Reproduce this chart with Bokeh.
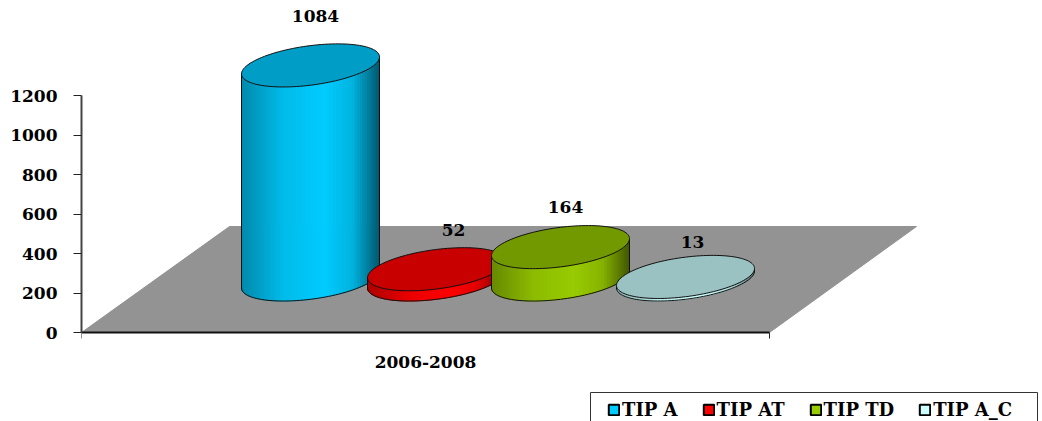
import numpy as np
from bokeh.plotting import figure
from bokeh.embed import file_html
from bokeh.resources import INLINE
from bokeh.core.properties import value
from bokeh.models import LinearAxis, FixedTicker, Legend, LegendItem

categories = ["TIP A", "TIP AT", "TIP TD", "TIP A_C"]
values = [1084, 52, 164, 13]
side_colors = ["#00CCFF", "#FF0000", "#99CC00", "#CCFFFF"]
top_colors = ["#009DC6", "#C80000", "#739900", "#9BC2C2"]
y_ticks = [0, 200, 400, 600, 800, 1000, 1200]
period = "2006-2008"

# layout, in page pixels
PX_Y0, PX_Y1200 = 332.0, 95.0
UNIT = 1200.0 / (PX_Y0 - PX_Y1200)
def Y(px):
    return (PX_Y0 - px) * UNIT

centres = [310, 436, 560, 685]
base_px = 279.0
half_w, shear, half_h = 69.0, 8.5, 19.8
label_dx = [5, 17, 5, 7]
label_gap = [28, 18, 19, 13]
FONT = "DejaVu Serif"

p = figure(width=1042, height=421, x_range=(81, 1042), y_range=(Y(421), Y(0)),
           output_backend="svg", toolbar_location=None, min_border_left=81,
           min_border_right=0, min_border_top=0, min_border_bottom=0,
           outline_line_color=None, background_fill_color="white", x_axis_type=None, y_axis_type=None)
p.grid.visible = False

# floor
p.patch([81, 229, 916, 769], [Y(332), Y(226), Y(226), Y(332)], fill_color="#939393", line_color="#939393")

t = np.linspace(0, 2 * np.pi, 121)
for cat, v, cx, sc, tc, dx, gap in zip(categories, values, centres, side_colors, top_colors, label_dx, label_gap):
    y0 = Y(base_px)
    ex = cx + half_w * np.cos(t)
    ey = (shear * np.cos(t) + half_h * np.sin(t)) * UNIT
    low = np.linspace(0, np.pi, 61)
    lx = cx + half_w * np.cos(low)
    ly = (shear * np.cos(low) - half_h * np.sin(low)) * UNIT
    rgb = np.array([int(sc[i:i + 2], 16) for i in (1, 3, 5)], float)
    xs, ys, cols = [], [], []
    for i in range(60):
        xs.append([lx[i], lx[i + 1], lx[i + 1], lx[i]])
        ys.append([y0 + ly[i], y0 + ly[i + 1], y0 + v + ly[i + 1], y0 + v + ly[i]])
        u = (0.5 * (lx[i] + lx[i + 1]) - (cx - half_w)) / (2 * half_w)
        s = np.interp(u, [0, 0.3, 0.6, 0.8, 1], [0.68, 0.92, 1, 0.88, 0.42])
        c = (rgb * s).astype(int)
        cols.append("#%02x%02x%02x" % tuple(c))
    p.patches(xs, ys, fill_color=cols, line_color=cols, line_width=1)
    p.line(lx, y0 + ly, line_color="#111111", line_width=1)
    p.segment([lx[0], lx[-1]], [y0 + ly[0], y0 + ly[-1]], [lx[0], lx[-1]],
              [y0 + v + ly[0], y0 + v + ly[-1]], line_color="#111111", line_width=1)
    p.patch(ex, y0 + v + ey, fill_color=tc, line_color="#111111", line_width=1)
    top_y = y0 + v + np.sqrt(shear ** 2 + half_h ** 2) * UNIT
    p.text([cx + dx], [top_y + gap * UNIT], text=[str(v)], text_font=value(FONT), text_font_style="bold",
           text_font_size="17px", text_align="center", text_baseline="middle", text_color="#000000")

# axes
ya = LinearAxis(ticker=FixedTicker(ticks=y_ticks), bounds=(0, 1200), axis_line_color="#444444", axis_line_width=2,
                major_tick_line_color="#222222", major_tick_line_width=1, major_tick_in=0, major_tick_out=8,
                minor_tick_line_color=None, major_label_standoff=16,
                major_label_text_font=FONT, major_label_text_font_style="bold",
                major_label_text_font_size="17px", major_label_text_color="#000000")
p.add_layout(ya, "left")

c = 0.5 * (81 + 769)
xa = LinearAxis(ticker=FixedTicker(ticks=[c], minor_ticks=[81, 769]), bounds=(81, 769), fixed_location=0,
                major_label_overrides={c: period}, axis_line_color="#111111", axis_line_width=2,
                major_tick_in=0, major_tick_out=0, minor_tick_in=0, minor_tick_out=6,
                minor_tick_line_color="#222222", major_label_standoff=17,
                major_label_text_font=FONT, major_label_text_font_style="bold",
                major_label_text_font_size="17px", major_label_text_color="#000000")
p.add_layout(xa, "below")

# legend box (open at the bottom of the picture) and legend
p.quad(left=[590], right=[1037], top=[Y(392)], bottom=[Y(440)], fill_color="white", line_color="#333333", line_width=1)
items = []
for cat, sc in zip(categories, side_colors):
    r = p.quad(left=[np.nan], right=[np.nan], top=[np.nan], bottom=[np.nan], fill_color=sc, line_color="#000000", line_width=2)
    items.append(LegendItem(label=cat, renderers=[r]))
leg = Legend(items=items, orientation="horizontal", location=(526, 1), glyph_width=13, glyph_height=13,
             label_text_font=FONT, label_text_font_style="bold", label_text_font_size="18px",
             label_text_color="#000000", label_standoff=2, spacing=24, padding=0, margin=0,
             border_line_color=None, background_fill_alpha=0)
p.add_layout(leg, "center")

open("out.html", "w").write(file_html(p, INLINE))
